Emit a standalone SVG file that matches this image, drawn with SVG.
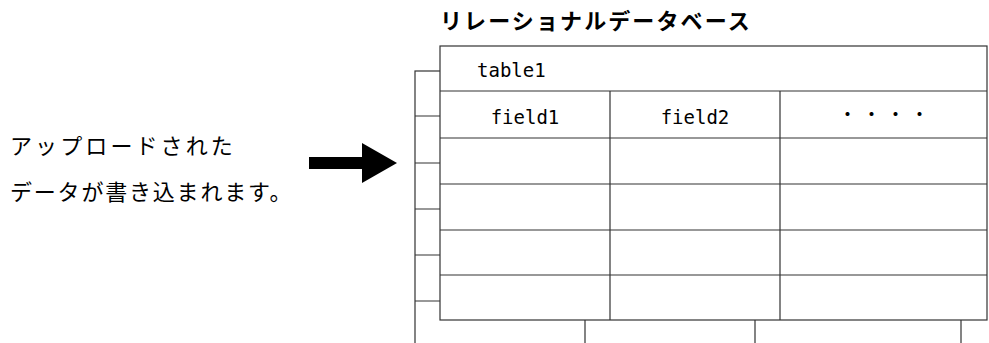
<svg xmlns="http://www.w3.org/2000/svg" width="989" height="343" viewBox="0 0 989 343">
<style>
.ln{stroke:#333;stroke-width:1.2;fill:none}
.cell{stroke:#333;stroke-width:1.2;fill:#fff}
.jp{font-family:"Noto Sans CJK JP","Noto Sans",sans-serif;fill:#000}
.mono{font-family:"DejaVu Sans Mono","Liberation Mono",monospace;font-size:19px;fill:#000}
</style>
<g id="title"><text class="jp" x="440" y="29" font-size="22" font-weight="bold" letter-spacing="2.1">リレーショナルデータベース</text></g>
<g id="caption">
<text class="jp" x="10" y="154" font-size="22" letter-spacing="3.1">アップロードされた</text>
<text class="jp" x="10" y="200" font-size="22" letter-spacing="1.8">データが書き込まれます。</text>
</g>
<g id="connectors">
<polygon points="309,157 362,157 362,143 397,163 362,183 362,169 309,169" fill="#000"/>
</g>
<g id="back-table">
<rect class="cell" x="415" y="71" width="546" height="290"/>
<path class="ln" d="M415 116H961M415 163H961M415 209H961M415 255H961M415 301H961M585 71V361M755 71V361"/>
</g>
<g id="front-table">
<rect class="cell" x="440" y="46" width="547" height="274"/>
<path class="ln" d="M440 91H987M440 138H987M440 184H987M440 230H987M440 275H987M610 91V320M780 91V320"/>
<text class="mono" x="477" y="77">table1</text>
<text class="mono" x="525" y="124" text-anchor="middle">field1</text>
<text class="mono" x="695" y="124" text-anchor="middle">field2</text>
<text class="jp" x="886" y="122" font-size="19" letter-spacing="5" text-anchor="middle">・・・・</text>
</g>
</svg>
